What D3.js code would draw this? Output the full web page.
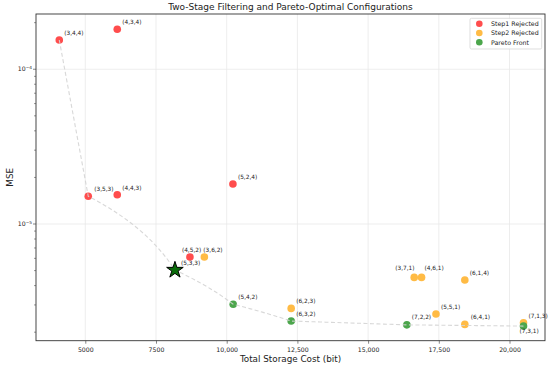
<!DOCTYPE html>
<html>
<head>
<meta charset="utf-8">
<script src="https://cdn.jsdelivr.net/npm/d3@7"></script>
<style>
  body { margin: 0; background: #fff; }
  text { font-family: "DejaVu Sans", sans-serif; fill: #222; }
</style>
</head>
<body>
<svg width="550" height="366"></svg>
<script>
// configs, storage cost (bit), mse, group
var labels = ["(3,4,4)", "(4,3,4)", "(5,2,4)", "(3,5,3)", "(4,4,3)", "(4,5,2)",
              "(3,6,2)", "(5,3,3)", "(5,4,2)", "(6,2,3)", "(6,3,2)", "(7,2,2)",
              "(5,5,1)", "(3,7,1)", "(4,6,1)", "(6,1,4)", "(6,4,1)", "(7,1,3)", "(7,3,1)"];
var cost = [4080, 6130, 10220, 5105, 6130, 8700,
            9210, 8170, 10230, 12280, 12280, 16370,
            17400, 16630, 16890, 18420, 18420, 20495, 20495];
var mse = [1.545e-4, 1.815e-4, 1.815e-5, 1.51e-5, 1.545e-5, 6.12e-6,
           6.12e-6, 5.04e-6, 3.03e-6, 2.85e-6, 2.36e-6, 2.23e-6,
           2.62e-6, 4.52e-6, 4.52e-6, 4.35e-6, 2.245e-6, 2.30e-6, 2.19e-6];
var group = ["s1", "s1", "s1", "s1", "s1", "s1",
             "s2", "best", "pf", "s2", "pf", "pf",
             "s2", "s2", "s2", "s2", "s2", "s2", "pf"];
// label offsets in px (dx, dy of text centre)
var labelDx = [5, 5, 5, 6, 5, -8, -1, 6, 5, 5, 5, 5, 5, -19, 3, 5, 6, 5, -4];
var labelDy = [-7, -7, -7, -7, -7, -7, -7, -7, -7, -7, -7, -8, -7, -9, -9, -7, -7, -7, 5];

var frontOrder = ["(3,4,4)", "(3,5,3)", "(5,3,3)", "(5,4,2)", "(6,3,2)", "(7,2,2)", "(7,3,1)"];

var xTicks = [5000, 7500, 10000, 12500, 15000, 17500, 20000];
var xTickLabels = ["5000", "7500", "10,000", "12,500", "15,000", "17,500", "20,000"];
var yTicks = [1e-5, 1e-4];
var yTickExp = ["\u22125", "\u22124"];

var legendNames = ["Step1 Rejected", "Step2 Rejected", "Pareto Front"];
var legendKeys = ["s1", "s2", "pf"];

var colors = { s1: "#ff4d4d", s2: "#ffbb45", pf: "#4ca64c", best: "#0a6b0a" };

var svg = d3.select("svg"),
    margin = {top: 14, right: 5, bottom: 25.3, left: 36},
    width = 550 - margin.left - margin.right,
    height = 366 - margin.top - margin.bottom;

var g = svg.append("g").attr("transform", "translate(" + margin.left + "," + margin.top + ")");

var x = d3.scaleLinear().domain([3257, 21255]).range([0, width]);
var y = d3.scaleLog().domain([Math.pow(10, -5.754), Math.pow(10, -3.643)]).range([height, 0]);

// grid
g.append("g").selectAll("line").data(xTicks).enter().append("line")
    .attr("x1", d => x(d)).attr("x2", d => x(d))
    .attr("y1", 0).attr("y2", height)
    .attr("stroke", "#e8e8e8").attr("stroke-width", 0.8);
g.append("g").selectAll("line").data(yTicks).enter().append("line")
    .attr("y1", d => y(d)).attr("y2", d => y(d))
    .attr("x1", 0).attr("x2", width)
    .attr("stroke", "#e8e8e8").attr("stroke-width", 0.8);

// x axis
var xAxis = g.append("g").attr("transform", "translate(0," + height + ")")
    .call(d3.axisBottom(x).tickValues(xTicks).tickSize(3).tickFormat((d, i) => xTickLabels[i]));
xAxis.select(".domain").remove();
xAxis.selectAll("text").attr("font-size", 6.2).attr("dy", "0.9em").style("font-family", "DejaVu Sans");
xAxis.selectAll("line").attr("stroke", "#333").attr("stroke-width", 0.6);

// y axis: minor ticks
var minor = [];
[-6, -5, -4].forEach(function(e) {
  for (var k = 2; k <= 9; k++) minor.push(k * Math.pow(10, e));
});
minor = minor.filter(v => v > y.domain()[0] && v < y.domain()[1]);
g.append("g").selectAll("line").data(minor).enter().append("line")
    .attr("x1", -2).attr("x2", 0)
    .attr("y1", d => y(d)).attr("y2", d => y(d))
    .attr("stroke", "#333").attr("stroke-width", 0.5);
g.append("g").selectAll("line").data(yTicks).enter().append("line")
    .attr("x1", -3).attr("x2", 0)
    .attr("y1", d => y(d)).attr("y2", d => y(d))
    .attr("stroke", "#333").attr("stroke-width", 0.6);
var yl = g.append("g").selectAll("text").data(yTicks).enter().append("text")
    .attr("x", -4).attr("y", d => y(d)).attr("dy", "0.35em")
    .attr("text-anchor", "end").attr("font-size", 6.2);
yl.append("tspan").text("10");
yl.append("tspan").attr("font-size", 4.3).attr("dy", "-0.45em").text((d, i) => yTickExp[i]);

// frame
g.append("rect").attr("width", width).attr("height", height)
    .attr("fill", "none").attr("stroke", "#333").attr("stroke-width", 0.9);

// points
var pts = labels.map((l, i) => ({label: l, x: cost[i], y: mse[i], g: group[i], dx: labelDx[i], dy: labelDy[i]}));

g.append("g").selectAll("circle").data(pts.filter(d => d.g != "best")).enter().append("circle")
    .attr("cx", d => x(d.x)).attr("cy", d => y(d.y)).attr("r", 3.8)
    .attr("fill", d => colors[d.g]);

// pareto dashed line: first step straight, then linear in data space
var front = frontOrder.map(l => pts.find(p => p.label == l));
var path = [front[0]];
for (var i = 1; i < front.length - 1; i++) {
  var a = front[i], b = front[i + 1];
  for (var t = 0; t <= 20; t++) {
    path.push({x: a.x + (b.x - a.x) * t / 20, y: a.y + (b.y - a.y) * t / 20});
  }
}
var line = d3.line().x(d => x(d.x)).y(d => y(d.y));
g.append("path").datum(path).attr("d", line)
    .attr("fill", "none").attr("stroke", "#d4d4d4").attr("stroke-width", 1.1)
    .attr("stroke-dasharray", "4,2.5").attr("opacity", 0.9);

// best star
var best = pts.find(p => p.g == "best");
g.append("path")
    .attr("d", d3.symbol().type(d3.symbolStar).size(85)())
    .attr("transform", "translate(" + x(best.x) + "," + y(best.y) + ")")
    .attr("fill", colors.best).attr("stroke", "#000").attr("stroke-width", 1);

// labels
svg.append("g").selectAll("text").data(pts).enter().append("text")
    .attr("x", d => margin.left + x(d.x) + d.dx)
    .attr("y", d => margin.top + y(d.y) + d.dy)
    .attr("dy", "0.35em").attr("font-size", 5.8).attr("fill", "#333")
    .text(d => d.label);

// legend
var lg = g.append("g").attr("transform", "translate(" + (width - 75) + ",4.3)");
lg.append("rect").attr("width", 71.7).attr("height", 30.7).attr("rx", 1.5)
    .attr("fill", "#fff").attr("fill-opacity", 0.85).attr("stroke", "#d0d0d0").attr("stroke-width", 0.7);
legendNames.forEach(function(n, i) {
  lg.append("circle").attr("cx", 9.3).attr("cy", 5.4 + i * 9.3).attr("r", 3.3).attr("fill", colors[legendKeys[i]]);
  lg.append("text").attr("x", 21).attr("y", 5.4 + i * 9.3).attr("dy", "0.35em")
    .attr("font-size", 6.3).text(n);
});

// titles
svg.append("text").attr("x", margin.left + width / 2).attr("y", 7.3).attr("dy", "0.35em")
    .attr("text-anchor", "middle").attr("font-size", 9).text("Two-Stage Filtering and Pareto-Optimal Configurations");
svg.append("text").attr("x", margin.left + width / 2).attr("y", 358.5).attr("dy", "0.35em")
    .attr("text-anchor", "middle").attr("font-size", 8.8).text("Total Storage Cost (bit)");
svg.append("text").attr("transform", "translate(10," + (margin.top + height / 2) + ") rotate(-90)")
    .attr("dy", "0.35em").attr("text-anchor", "middle").attr("font-size", 8.8).text("MSE");
</script>
</body>
</html>
